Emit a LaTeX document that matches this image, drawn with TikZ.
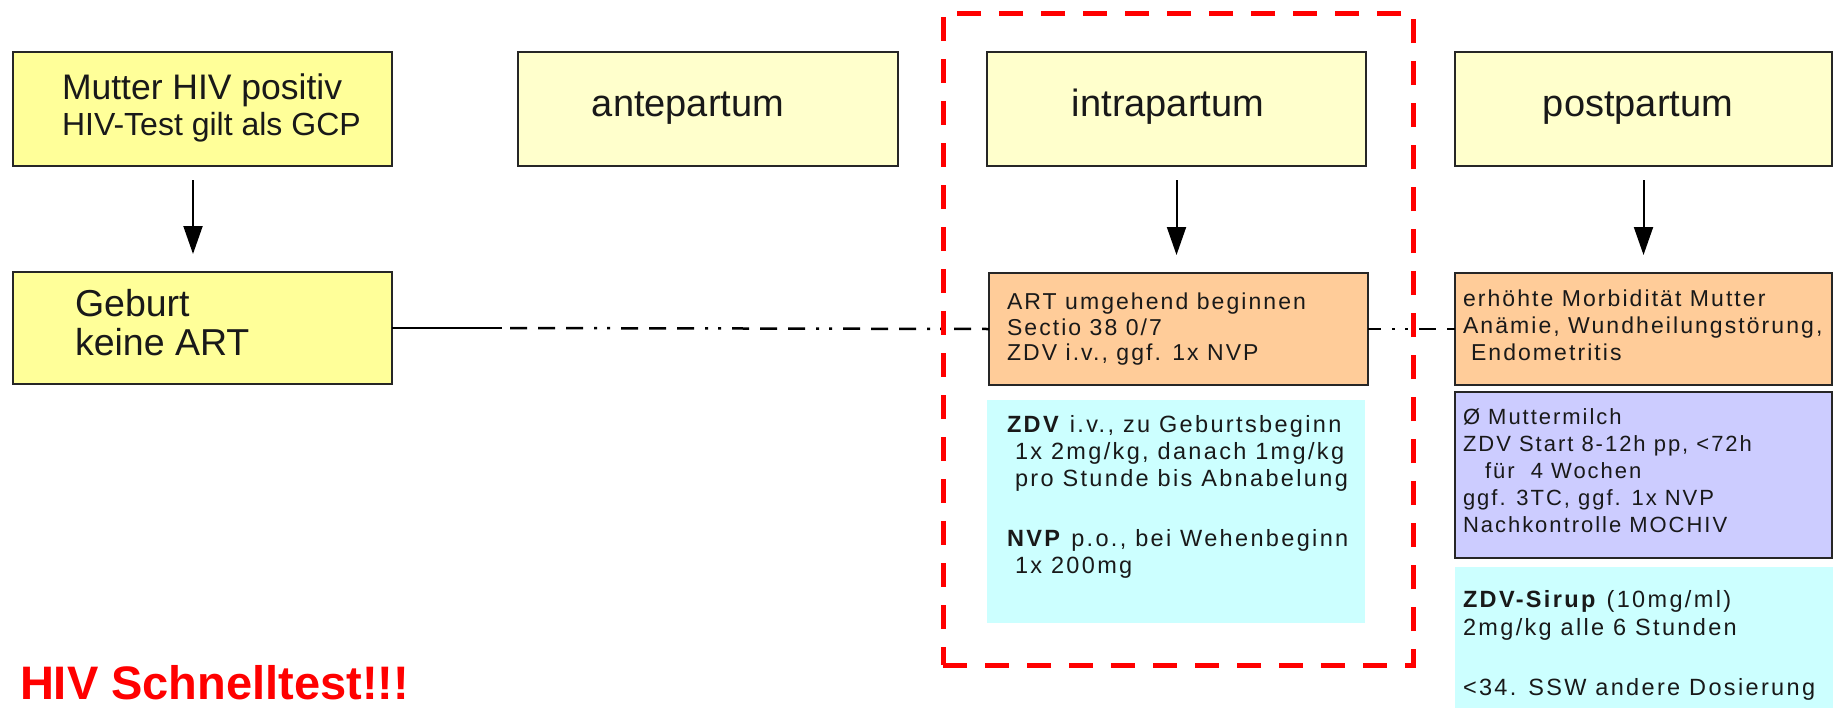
\documentclass[tikz,border=0pt]{standalone}
\usepackage{fontspec}
\setmainfont{Liberation Sans}
\usetikzlibrary{arrows.meta}

\definecolor{boxyellow}{HTML}{FFFF99}
\definecolor{paleyellow}{HTML}{FFFFCC}
\definecolor{apricot}{HTML}{FFCC99}
\definecolor{lightcyan}{HTML}{CCFFFF}
\definecolor{lavender}{HTML}{CCCCFF}

% small spaced note text used inside the coloured boxes
\newcommand{\notefont}{\fontsize{23}{27}\selectfont\addfontfeature{LetterSpace=9}}
\newcommand{\notefontp}{\fontsize{22}{26}\selectfont\addfontfeature{LetterSpace=9}}
\newcommand{\notefontb}{\fontsize{23.5}{27}\selectfont\addfontfeature{LetterSpace=10}}
\newcommand{\headfont}{\fontsize{38}{42}\selectfont}

\tikzset{
  box/.style={draw=black!85, line width=2pt, anchor=north west, inner sep=0pt, outer sep=0pt},
  panel/.style={anchor=north west, inner sep=0pt, outer sep=0pt},
  txt/.style={anchor=base west, inner sep=0pt, outer sep=0pt, text=black!90},
  ctxt/.style={anchor=base, inner sep=0pt, outer sep=0pt, text=black!90},
  arr/.style={line width=2pt, -{Triangle[length=28pt,width=19pt]}, shorten <=14pt, shorten >=18pt},
  link/.style={line width=2.5pt},
  linkdash/.style={line width=2.5pt, dash pattern=on 17pt off 11pt on 17pt off 11pt on 17pt off 11pt on 3pt off 10pt on 3pt off 11pt},
  redframe/.style={draw=red, line width=5pt, dash pattern=on 24pt off 18pt, anchor=north west, inner sep=0pt, outer sep=0pt}
}

\begin{document}
\begin{tikzpicture}[x=1pt, y=-1pt]
\useasboundingbox (0,0) rectangle (1833,707);

% top row
\node[box, fill=boxyellow, minimum width=379pt, minimum height=114pt] (mutter) at (13,52) {};
\node[box, fill=paleyellow, minimum width=380pt, minimum height=114pt] (ante) at (518,52) {};
\node[box, fill=paleyellow, minimum width=379pt, minimum height=114pt] (intra) at (987,52) {};
\node[box, fill=paleyellow, minimum width=377pt, minimum height=114pt] (post) at (1455,52) {};

% second row and detail panels
\node[box, fill=boxyellow, minimum width=379pt, minimum height=112pt] (geburt) at (13,272) {};
\node[box, fill=apricot, minimum width=379pt, minimum height=112pt] (iorange) at (989,273) {};
\node[panel, fill=lightcyan, minimum width=378pt, minimum height=223pt] (icyan) at (987,400) {};
\node[box, fill=apricot, minimum width=377pt, minimum height=112pt] (porange) at (1455,273) {};
\node[box, fill=lavender, minimum width=377pt, minimum height=166pt] (ppurple) at (1455,392) {};
\node[panel, fill=lightcyan, minimum width=380pt, minimum height=145pt] (pcyan) at (1455,567) {};

% headings
\node[txt, font=\fontsize{35.5}{40}\selectfont] (mutterA) at (62,99) {Mutter HIV positiv};
\node[txt, font=\fontsize{32}{36}\selectfont] (mutterB) at (62,135) {HIV-Test gilt als GCP};
\node[ctxt, font=\headfont] (anteT) at (688,116) {antepartum};
\node[ctxt, font=\headfont] (intraT) at (1168,116) {intrapartum};
\node[ctxt, font=\headfont] (postT) at (1638,116) {postpartum};
\node[txt, font=\fontsize{37.5}{41}\selectfont] (geburtA) at (75,316) {Geburt};
\node[txt, font=\fontsize{37.5}{41}\selectfont] (geburtB) at (75,355) {keine ART};

% intrapartum details
\node[txt, font=\notefont] (io1) at (1007,309) {ART umgehend beginnen};
\node[txt, font=\notefont] (io2) at (1007,335) {Sectio 38 0/7};
\node[txt, font=\notefont] (io3) at (1007,360) {ZDV i.v., ggf. 1x NVP};

\node[txt, font=\notefontb] (ic1) at (1007,432) {\textbf{ZDV} i.v., zu Geburtsbeginn};
\node[txt, font=\notefontb] (ic2) at (1015,459) {1x 2mg/kg, danach 1mg/kg};
\node[txt, font=\notefontb] (ic3) at (1015,486) {pro Stunde bis Abnabelung};
\node[txt, font=\notefontb] (ic4) at (1007,546) {\textbf{NVP} p.o., bei Wehenbeginn};
\node[txt, font=\notefontb] (ic5) at (1015,573) {1x 200mg};

% postpartum details
\node[txt, font=\notefont] (po1) at (1463,306) {erhöhte Morbidität Mutter};
\node[txt, font=\notefont] (po2) at (1463,333) {Anämie, Wundheilungstörung,};
\node[txt, font=\notefont] (po3) at (1471,360) {Endometritis};

\node[txt, font=\notefontp] (pp1) at (1463,424) {Ø Muttermilch};
\node[txt, font=\notefontp] (pp2) at (1463,451) {ZDV Start 8-12h pp, <72h};
\node[txt, font=\notefontp] (pp3) at (1485,478) {für\ \ 4 Wochen};
\node[txt, font=\notefontp] (pp4) at (1463,505) {ggf. 3TC, ggf. 1x NVP};
\node[txt, font=\notefontp] (pp5) at (1463,532) {Nachkontrolle MOCHIV};

\node[txt, font=\notefontb] (pc1) at (1463,607) {\textbf{ZDV-Sirup} (10mg/ml)};
\node[txt, font=\notefontb] (pc2) at (1463,635) {2mg/kg alle 6 Stunden};
\node[txt, font=\notefontb] (pc3) at (1463,695) {<34. SSW andere Dosierung};

% warning
\node[txt, font=\fontsize{47}{52}\selectfont\bfseries, text=red] (schnell) at (20,699) {HIV Schnelltest!!!};

% arrows
\draw[arr] ([xshift=-9.5pt]mutter.south) -- ([xshift=-9.5pt]geburt.north);
\draw[arr] (intra.south) -- (intra.south |- iorange.north);
\draw[arr] (post.south) -- (post.south |- porange.north);

% time line through the birth row
\path (geburt.east) ++(110pt,0) coordinate (dashstart);
\draw[link] (geburt.east) -- (dashstart);
\draw[linkdash, dash phase=-8pt] (dashstart) -- (iorange.west);
\draw[linkdash, dash phase=60pt] (iorange.east) -- (porange.west);

% intrapartum highlight
\node[redframe, minimum width=470pt, minimum height=652pt] (focus) at (943,13) {};
\end{tikzpicture}
\end{document}
